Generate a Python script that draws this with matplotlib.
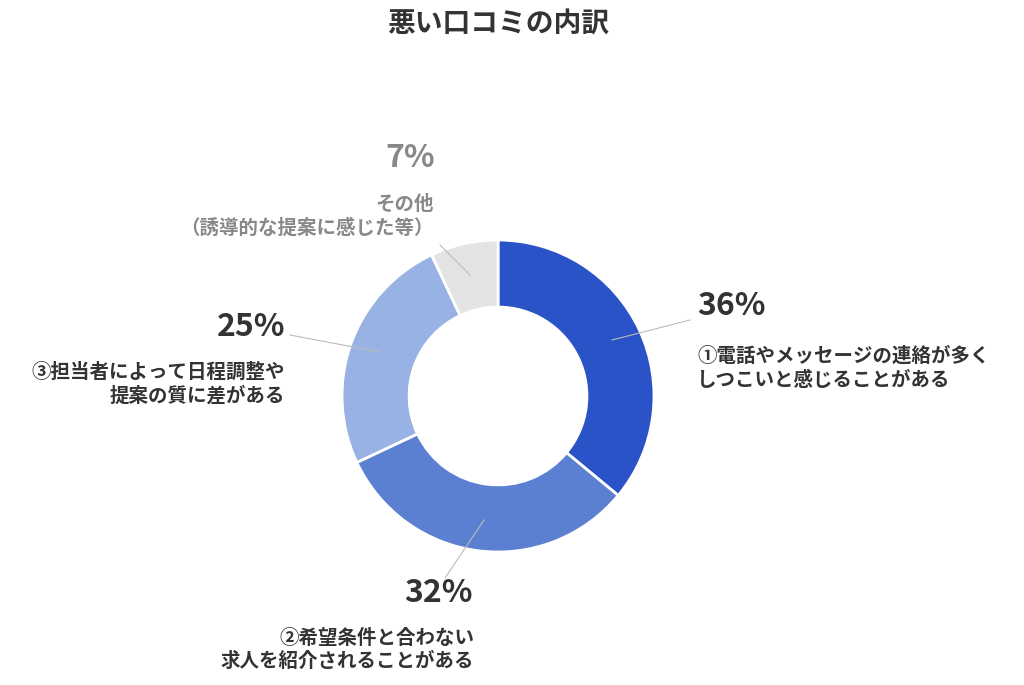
import matplotlib
matplotlib.use("Agg")
import matplotlib.pyplot as plt

plt.rcParams['font.family'] = ['Noto Sans CJK JP', 'DejaVu Sans']

labels = ["①電話やメッセージの連絡が多く\nしつこいと感じることがある",
          "②希望条件と合わない\n求人を紹介されることがある",
          "③担当者によって日程調整や\n提案の質に差がある",
          "その他\n（誘導的な提案に感じた等）"]
values = [36, 32, 25, 7]
colors = ["#2A53C7", "#5B80D1", "#98B2E3", "#E4E4E4"]

W, H = 1024, 685
fig = plt.figure(figsize=(W/100, H/100), dpi=100)
cx, cy, r = 498, 396, 156
ax = fig.add_axes([(cx-r)/W, (H-cy-r)/H, 2*r/W, 2*r/H])
ax.pie(values, colors=colors, startangle=90, counterclock=False,
       wedgeprops=dict(width=0.43, edgecolor='white', linewidth=2))
ax.set_xlim(-1, 1); ax.set_ylim(-1, 1); ax.set_aspect('equal'); ax.axis('off')

def fx(x): return x/W
def fy(y): return 1-y/H

fig.text(fx(498), fy(25), "悪い口コミの内訳", ha='center', va='center', fontsize=20, fontweight='bold', color='#333333')

lines = [((612, 340), (690, 320)), ((484, 520), (445, 578)),
         ((380, 352), (290, 335)), ((470, 275), (440, 245))]
for (a, b) in lines:
    fig.add_artist(plt.Line2D([fx(a[0]), fx(b[0])], [fy(a[1]), fy(b[1])], color='#bbbbbb', lw=0.8))

dark = '#333333'; gray = '#888888'
fs_p, fs_l, ls = 23, 14, 1.3
# 36
fig.text(fx(697), fy(306), f"{values[0]}%", ha='left', va='center', fontsize=fs_p, fontweight='bold', color=dark)
fig.text(fx(697), fy(368), labels[0], ha='left', va='center', fontsize=fs_l, fontweight='bold', color=dark, linespacing=ls)
# 32
fig.text(fx(438), fy(593), f"{values[1]}%", ha='center', va='center', fontsize=fs_p, fontweight='bold', color=dark)
fig.text(fx(474), fy(650), labels[1], ha='right', va='center', fontsize=fs_l, fontweight='bold', color=dark, linespacing=ls, multialignment='right')
# 25
fig.text(fx(285), fy(327), f"{values[2]}%", ha='right', va='center', fontsize=fs_p, fontweight='bold', color=dark)
fig.text(fx(285), fy(384), labels[2], ha='right', va='center', fontsize=fs_l, fontweight='bold', color=dark, linespacing=ls, multialignment='right')
# 7
fig.text(fx(410), fy(158), f"{values[3]}%", ha='center', va='center', fontsize=fs_p, fontweight='bold', color=gray)
fig.text(fx(434), fy(216), labels[3], ha='right', va='center', fontsize=fs_l, fontweight='bold', color=gray, linespacing=ls, multialignment='right')

fig.savefig("out.png", dpi=100, facecolor='white')
